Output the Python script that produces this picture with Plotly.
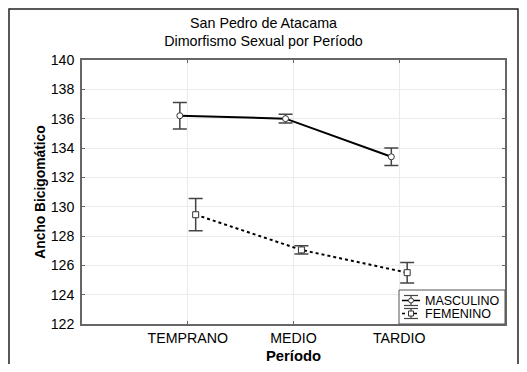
import plotly.graph_objects as go

categorias = ["TEMPRANO", "MEDIO", "TARDIO"]
masc_media = [136.2, 136.0, 133.4]
masc_err = [0.9, 0.3, 0.6]
fem_media = [129.45, 127.05, 125.5]
fem_err = [1.1, 0.28, 0.7]
y_ticks = [122, 124, 126, 128, 130, 132, 134, 136, 138, 140]
series_names = ["MASCULINO", "FEMENINO"]

pos = list(range(len(categorias)))
off = 0.075

fig = go.Figure()
fig.add_trace(go.Scatter(
    x=[p - off for p in pos], y=masc_media, name=series_names[0],
    mode="lines+markers",
    line=dict(color="black", width=2),
    marker=dict(symbol="circle", size=6, color="white", line=dict(color="#333", width=1)),
    error_y=dict(type="data", array=masc_err, color="#444", thickness=1.5, width=7),
))
fig.add_trace(go.Scatter(
    x=[p + off for p in pos], y=fem_media, name=series_names[1],
    mode="lines+markers",
    line=dict(color="black", width=2, dash="dot"),
    marker=dict(symbol="square", size=6, color="white", line=dict(color="#333", width=1)),
    error_y=dict(type="data", array=fem_err, color="#444", thickness=1.5, width=7),
))

axis_font = dict(family="Liberation Sans, Arial, sans-serif", size=14.2, color="black")

fig.update_layout(
    width=511, height=356,
    margin=dict(l=74, r=14, t=52, b=40, autoexpand=False),
    paper_bgcolor="white", plot_bgcolor="white",
    font=dict(family="Liberation Sans, Arial, sans-serif", color="black"),
    title=dict(text="San Pedro de Atacama<br>Dimorfismo Sexual por Período",
               x=0.5, xanchor="center", y=0.945, yanchor="top", yref="container",
               font=dict(size=14.3, color="black")),
    xaxis=dict(
        range=[-1, 3], tickmode="array", tickvals=pos, ticktext=categorias,
        tickfont=axis_font, showgrid=True, gridcolor="#ebebeb", gridwidth=1,
        showline=True, linecolor="#666", linewidth=1.5, mirror="ticks",
        ticks="inside", ticklen=3, tickcolor="#666", zeroline=False, automargin=False,
        title=dict(text="<b>Período</b>", font=dict(size=14.8), standoff=13),
    ),
    yaxis=dict(
        range=[122, 140], tickmode="array", tickvals=y_ticks,
        tickfont=axis_font, showgrid=True, gridcolor="#ebebeb", gridwidth=1,
        showline=True, linecolor="#666", linewidth=1.5, mirror="ticks",
        ticks="inside", ticklen=3, tickcolor="#666", zeroline=False, automargin=False,
        ticklabelstandoff=3,
        title=dict(text="<b>Ancho Bicigomático</b>", font=dict(size=13.8), standoff=2),
    ),
    showlegend=False,
)

# outer frame
fig.add_shape(type="rect", xref="paper", yref="paper",
              x0=-0.1726, x1=1.0307, y0=-0.2, y1=1.193,
              line=dict(color="#222", width=1.5), fillcolor="rgba(0,0,0,0)", layer="below")

# compact legend (layout in plot-area pixels -> paper coordinates)
PL, PB, PW, PH = 82, 324, 423, 264
def px(x):
    return (x - PL) / PW
def py(y):
    return (PB - y) / PH

fig.add_shape(type="rect", xref="paper", yref="paper",
              x0=px(399), x1=px(505), y0=py(324), y1=py(290),
              line=dict(color="#555", width=1), fillcolor="white", layer="above")

legend_rows = [(300.5, "solid", "circle"), (313.5, "dot", "square")]
for name, (yc, dash, sym) in zip(series_names, legend_rows):
    # line
    fig.add_shape(type="line", xref="paper", yref="paper",
                  x0=px(402), x1=px(420), y0=py(yc), y1=py(yc),
                  line=dict(color="black", width=1.5, dash=dash), layer="above")
    # error bar
    fig.add_shape(type="line", xref="paper", yref="paper",
                  x0=px(411), x1=px(411), y0=py(yc - 5), y1=py(yc + 5),
                  line=dict(color="#444", width=1.2), layer="above")
    for cy in (yc - 5, yc + 5):
        fig.add_shape(type="line", xref="paper", yref="paper",
                      x0=px(404), x1=px(418), y0=py(cy), y1=py(cy),
                      line=dict(color="#444", width=1.2), layer="above")
    # marker
    fig.add_shape(type="circle" if sym == "circle" else "rect", xref="paper", yref="paper",
                  x0=px(408.5), x1=px(413.5), y0=py(yc + 2.5), y1=py(yc - 2.5),
                  line=dict(color="#333", width=1), fillcolor="white", layer="above")
    fig.add_annotation(x=px(423), y=py(yc), xref="paper", yref="paper",
                       text=name, showarrow=False, xanchor="left", yanchor="middle",
                       font=dict(size=12.5, color="black"))

fig.write_html("out.html")
